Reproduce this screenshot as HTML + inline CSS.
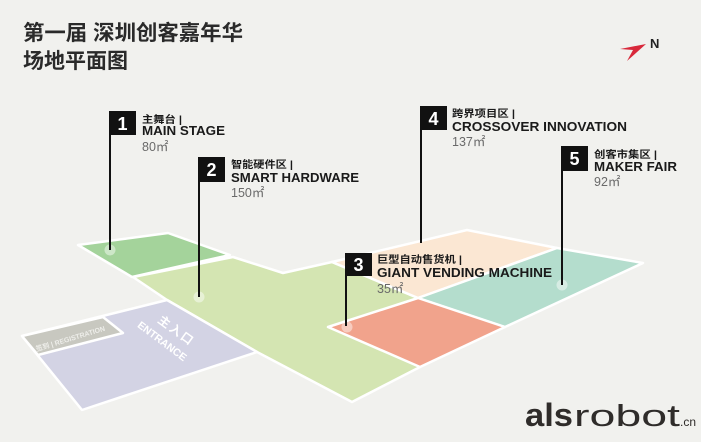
<!DOCTYPE html>
<html><head><meta charset="utf-8"><style>
html,body{margin:0;padding:0;background:#f1f1ee;}
svg{display:block;}
text{font-family:"Liberation Sans","Noto Sans CJK SC",sans-serif;}
</style></head><body>
<svg width="701" height="442" viewBox="0 0 701 442" xmlns="http://www.w3.org/2000/svg">
<rect x="0" y="0" width="701" height="442" fill="#f1f1ee"/>
<!-- title -->
<text x="23" y="40" font-size="21" font-weight="bold" fill="#2a2a2a" textLength="220" lengthAdjust="spacingAndGlyphs">第一届 深圳创客嘉年华</text>
<text x="23" y="68" font-size="21" font-weight="bold" fill="#2a2a2a" textLength="105" lengthAdjust="spacingAndGlyphs">场地平面图</text>
<!-- north -->
<polygon points="620,49 646,44 627,61 633,50" fill="#d8283a"/>
<text x="650" y="48" font-size="13" font-weight="bold" fill="#222">N</text>

<g stroke="#ffffff" stroke-width="2.5" stroke-linejoin="round">
<!-- light green big -->
<polygon points="133,277 233,257 283,273 332,262 418,298 420,367 352,402 257,352 167,300" fill="#d4e5b2"/>
<!-- dark green -->
<polygon points="78,245 168,233 230,255 132,277" fill="#a4d39b"/>
<!-- peach -->
<polygon points="332,262 467,230 557,248 418,298" fill="#fbe7d3"/>
<!-- teal -->
<polygon points="418,298 557,248 643,263 505,327" fill="#b4ddcd"/>
<!-- red -->
<polygon points="328,327 418,298 505,327 420,367" fill="#f1a38c"/>
<!-- purple entrance -->
<polygon points="22,336 167,300 257,352 82,410" fill="#d3d3e4"/>
<!-- registration -->
<polygon points="22,336 103,317 123,333 38,355" fill="#c8c8c0"/>
</g>

<!-- entrance labels -->
<text transform="translate(174,334) rotate(36)" font-size="12" font-weight="bold" fill="#ffffff" text-anchor="middle" letter-spacing="2">主入口</text>
<text transform="translate(160,344) rotate(37)" font-size="10.5" font-weight="bold" fill="#ffffff" text-anchor="middle">ENTRANCE</text>
<text transform="translate(71,341) rotate(-17)" font-size="7" font-weight="bold" fill="#eeeeea" text-anchor="middle" textLength="72" lengthAdjust="spacingAndGlyphs">签到 | REGISTRATION</text>

<!-- dots -->
<g fill="#ffffff" fill-opacity="0.45">
<circle cx="110" cy="250" r="5.5"/>
<circle cx="199" cy="297" r="5.5"/>
<circle cx="562" cy="285" r="5.5"/>
<circle cx="347" cy="327" r="5.5"/>
</g>

<!-- poles -->
<g stroke="#111" stroke-width="2">
<line x1="110" y1="111" x2="110" y2="250"/>
<line x1="199" y1="157" x2="199" y2="297"/>
<line x1="421" y1="106" x2="421" y2="243"/>
<line x1="562" y1="146" x2="562" y2="285"/>
<line x1="346" y1="253" x2="346" y2="326"/>
</g>

<!-- flag boxes -->
<g fill="#111">
<rect x="109" y="111" width="27" height="24"/>
<rect x="198" y="157" width="27" height="25"/>
<rect x="420" y="106" width="27" height="24"/>
<rect x="561" y="146" width="27" height="25"/>
<rect x="345" y="253" width="27" height="23"/>
</g>
<g fill="#ffffff" font-size="18" font-weight="bold" text-anchor="middle">
<text x="122.5" y="130">1</text>
<text x="211.5" y="176">2</text>
<text x="433.5" y="125">4</text>
<text x="574.5" y="165">5</text>
<text x="358.5" y="271">3</text>
</g>

<!-- labels -->
<g fill="#1a1a1a" font-weight="bold">
<text x="142" y="123" font-size="10" textLength="40" lengthAdjust="spacingAndGlyphs">主舞台 |</text>
<text x="142" y="135" font-size="13" textLength="83" lengthAdjust="spacingAndGlyphs">MAIN STAGE</text>

<text x="231" y="168" font-size="10" textLength="62" lengthAdjust="spacingAndGlyphs">智能硬件区 |</text>
<text x="231" y="182" font-size="13" textLength="128" lengthAdjust="spacingAndGlyphs">SMART HARDWARE</text>

<text x="452" y="117" font-size="10" textLength="63" lengthAdjust="spacingAndGlyphs">跨界项目区 |</text>
<text x="452" y="131" font-size="13" textLength="175" lengthAdjust="spacingAndGlyphs">CROSSOVER INNOVATION</text>

<text x="594" y="158" font-size="10" textLength="63" lengthAdjust="spacingAndGlyphs">创客市集区 |</text>
<text x="594" y="171" font-size="13" textLength="83" lengthAdjust="spacingAndGlyphs">MAKER FAIR</text>

<text x="377" y="263" font-size="10" textLength="85" lengthAdjust="spacingAndGlyphs">巨型自动售货机 |</text>
<text x="377" y="277" font-size="13" textLength="175" lengthAdjust="spacingAndGlyphs">GIANT VENDING MACHINE</text>
</g>
<g fill="#6a6a6a" font-size="12.5">
<text x="142" y="151">80㎡</text>
<text x="231" y="197">150㎡</text>
<text x="452" y="146">137㎡</text>
<text x="594" y="186">92㎡</text>
<text x="377" y="293">35㎡</text>
</g>

<!-- logo -->
<text x="525" y="426" font-size="32" font-weight="bold" fill="#2f2c2a" textLength="48" lengthAdjust="spacingAndGlyphs">als</text>
<text x="574" y="426" font-size="31" fill="#2f2c2a" textLength="106" lengthAdjust="spacingAndGlyphs">robot</text>
<text x="680" y="426" font-size="12" fill="#2f2c2a">.cn</text>
</svg>
</body></html>
